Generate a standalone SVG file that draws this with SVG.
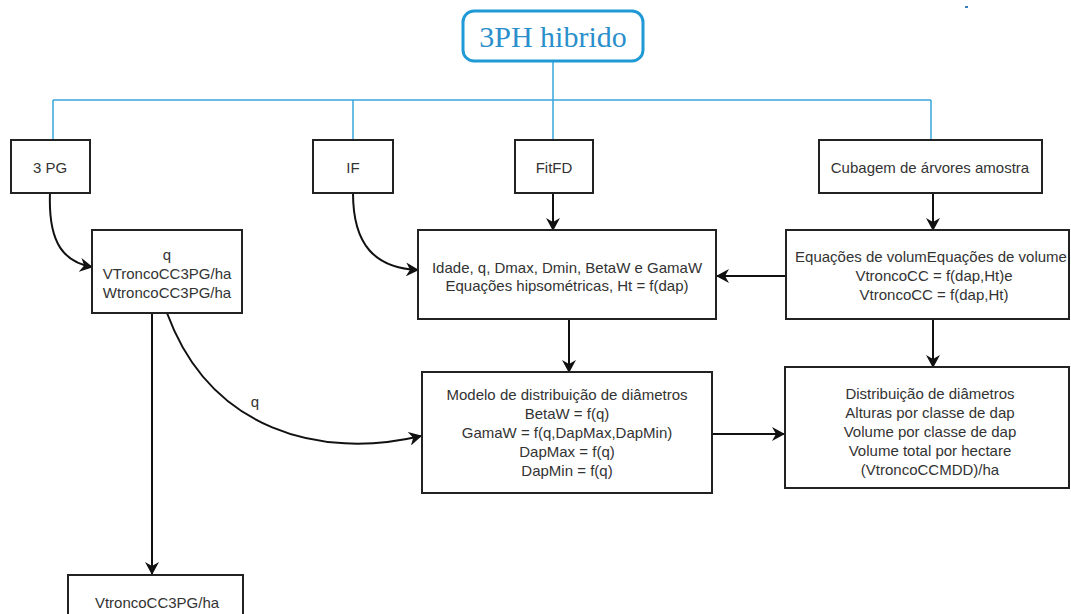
<svg xmlns="http://www.w3.org/2000/svg" width="1071" height="614" viewBox="0 0 1071 614">
<style>
  .box { fill: #ffffff; stroke: #222222; stroke-width: 2; }
  .t { font-family: "Liberation Sans", Arial, sans-serif; font-size: 15px; fill: #333333; text-anchor: middle; }
  .tree { fill: none; stroke: #3aa6dc; stroke-width: 1.5; }
  .arr { fill: none; stroke: #111111; stroke-width: 2; marker-end: url(#ah); }
</style>
<defs>
  <marker id="ah" markerUnits="userSpaceOnUse" markerWidth="14" markerHeight="14" refX="12" refY="7" orient="auto">
    <path d="M0,0 L13,7 L0,14 L4,7 z" fill="#111111"/>
  </marker>
</defs>
<rect width="1071" height="614" fill="#ffffff"/>

<g id="connectors">
  <path class="tree" d="M553,61 V100 M53,100 H931 M53,100 V140 M353,100 V140 M553,100 V140 M931,100 V140"/>
  <path class="arr" d="M50,193 C48,245 65,262 92,267"/>
  <path class="arr" d="M353,193 C353,245 375,268 418,270"/>
  <path class="arr" d="M553,193 V230"/>
  <path class="arr" d="M933,193 V230"/>
  <path class="arr" d="M786,276 H717"/>
  <path class="arr" d="M569,319 V372"/>
  <path class="arr" d="M933,319 V367"/>
  <path class="arr" d="M712,434 H784"/>
  <path class="arr" d="M152,313 V574"/>
  <path class="arr" d="M167,313 C210,430 320,460 421,436"/>
  <text class="t" x="255" y="407">q</text>
</g>

<g id="root">
  <rect x="463" y="11" width="180" height="50" rx="11" ry="11" fill="#ffffff" stroke="#1f9ad6" stroke-width="3"/>
  <text x="553" y="47" font-family="Liberation Serif, 'Times New Roman', serif" font-size="30" fill="#2b8fcc" text-anchor="middle">3PH hibrido</text>
</g>

<g id="n3pg">
  <rect class="box" x="11" y="140" width="79" height="53"/>
  <text class="t" x="50" y="173">3 PG</text>
</g>

<g id="nif">
  <rect class="box" x="313" y="140" width="80" height="53"/>
  <text class="t" x="353" y="173">IF</text>
</g>

<g id="nfitfd">
  <rect class="box" x="515" y="140" width="78" height="53"/>
  <text class="t" x="554" y="173">FitFD</text>
</g>

<g id="ncubagem">
  <rect class="box" x="819" y="140" width="223" height="53"/>
  <text class="t" x="930" y="173">Cubagem de árvores amostra</text>
</g>

<g id="nq">
  <rect class="box" x="92" y="230" width="150" height="83"/>
  <text class="t" x="167" y="260">q</text>
  <text class="t" x="167" y="279">VTroncoCC3PG/ha</text>
  <text class="t" x="167" y="298">WtroncoCC3PG/ha</text>
</g>

<g id="nidade">
  <rect class="box" x="418" y="230" width="298" height="89"/>
  <text class="t" x="567" y="273">Idade, q, Dmax, Dmin, BetaW e GamaW</text>
  <text class="t" x="567" y="291">Equações hipsométricas, Ht = f(dap)</text>
</g>

<g id="nequacoes">
  <rect class="box" x="786" y="230" width="283" height="89"/>
  <text class="t" x="931" y="262">Equações de volumEquações de volume</text>
  <text class="t" x="934" y="281">VtroncoCC = f(dap,Ht)e</text>
  <text class="t" x="934" y="300">VtroncoCC = f(dap,Ht)</text>
</g>

<g id="nmodelo">
  <rect class="box" x="422" y="372" width="290" height="121"/>
  <text class="t" x="567" y="400">Modelo de distribuição de diâmetros</text>
  <text class="t" x="567" y="419">BetaW = f(q)</text>
  <text class="t" x="567" y="438">GamaW = f(q,DapMax,DapMin)</text>
  <text class="t" x="567" y="457">DapMax = f(q)</text>
  <text class="t" x="567" y="476">DapMin = f(q)</text>
</g>

<g id="ndist">
  <rect class="box" x="785" y="367" width="284" height="121"/>
  <text class="t" x="930" y="399">Distribuição de diâmetros</text>
  <text class="t" x="930" y="418">Alturas por classe de dap</text>
  <text class="t" x="930" y="437">Volume por classe de dap</text>
  <text class="t" x="930" y="456">Volume total por hectare</text>
  <text class="t" x="930" y="475">(VtroncoCCMDD)/ha</text>
</g>

<g id="nvtronco">
  <rect class="box" x="68" y="575" width="175" height="50"/>
  <text class="t" x="157" y="608">VtroncoCC3PG/ha</text>
</g>

<rect x="965" y="6" width="3" height="2" fill="#3a7fc0"/>
</svg>
